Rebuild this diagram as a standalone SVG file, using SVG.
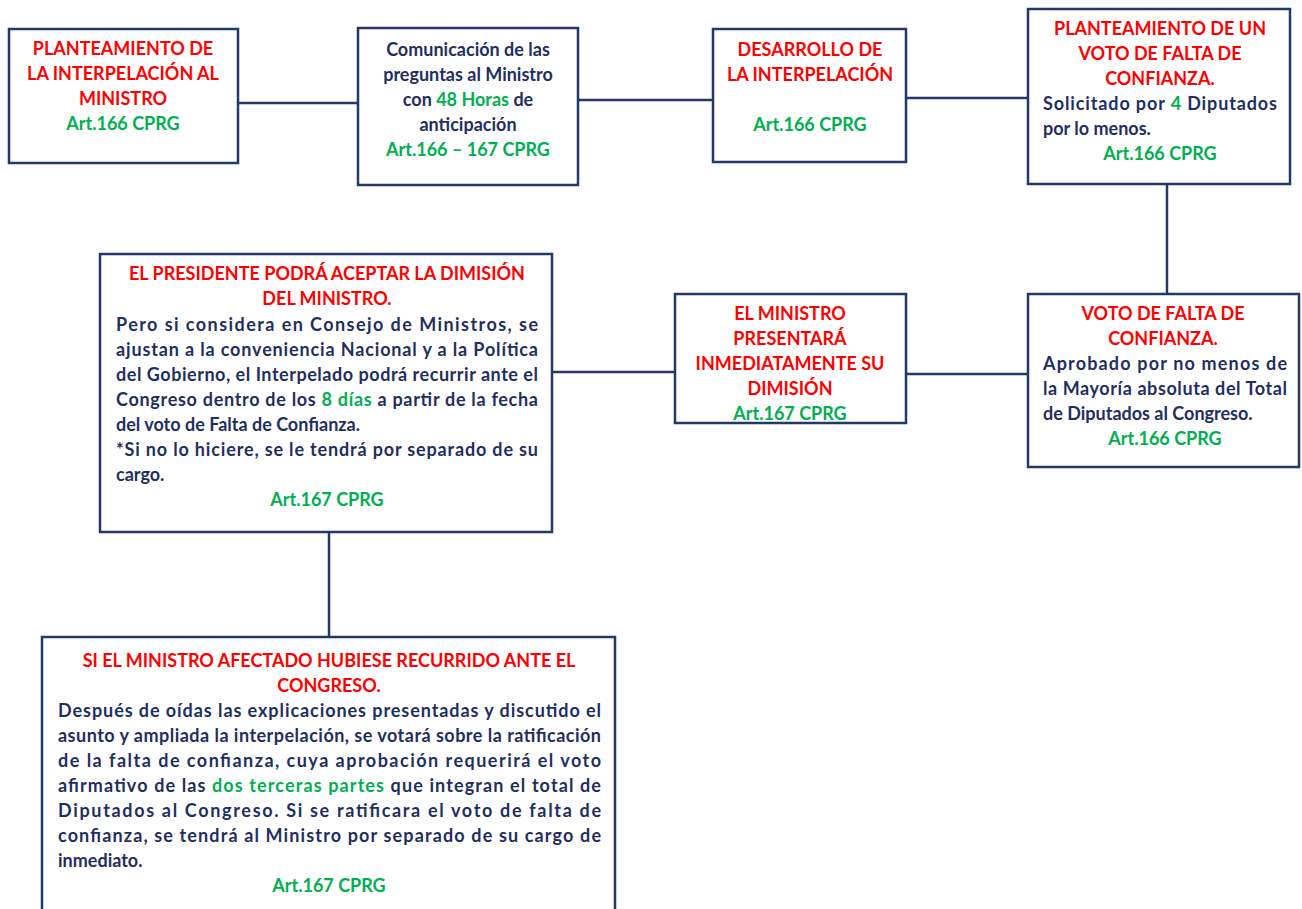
<svg xmlns="http://www.w3.org/2000/svg" width="1302" height="909" viewBox="0 0 1302 909">
<style>
.box{fill:#fff;stroke:#22386b;stroke-width:2.5}
.con{stroke:#22386b;stroke-width:2.5;fill:none}
text{font-family:Lato,"Liberation Sans",sans-serif;font-weight:bold;font-size:18px;fill:#1f2f5f}
.c{text-anchor:middle}
.r{fill:#ff0000}
.g{fill:#00b050}
</style>
<rect width="1302" height="909" fill="#fff"/>
<g id="connectors">
<line class="con" x1="238" y1="103" x2="358" y2="103"/>
<line class="con" x1="578" y1="100" x2="713" y2="100"/>
<line class="con" x1="906" y1="98" x2="1028" y2="98"/>
<line class="con" x1="1167" y1="184" x2="1167" y2="294"/>
<line class="con" x1="906" y1="374" x2="1028" y2="374"/>
<line class="con" x1="552" y1="372" x2="675" y2="372"/>
<line class="con" x1="329" y1="533" x2="329" y2="637"/>
</g>
<g id="n1">
<rect class="box" x="9" y="29" width="229" height="134"/>
<text class="c r" x="123" y="55">PLANTEAMIENTO DE</text>
<text class="c r" x="123" y="80">LA INTERPELACIÓN AL</text>
<text class="c r" x="123" y="105">MINISTRO</text>
<text class="c g" x="123" y="130">Art.166 CPRG</text>
</g>
<g id="n2">
<rect class="box" x="358" y="28" width="220" height="157"/>
<text class="c" x="468" y="56">Comunicación de las</text>
<text class="c" x="468" y="81">preguntas al Ministro</text>
<text class="c" x="468" y="106">con <tspan class="g">48 Horas</tspan> de</text>
<text class="c" x="468" y="131">anticipación</text>
<text class="c g" x="468" y="156">Art.166 – 167 CPRG</text>
</g>
<g id="n3">
<rect class="box" x="713" y="29" width="193" height="133"/>
<text class="c r" x="810" y="56">DESARROLLO DE</text>
<text class="c r" x="810" y="81">LA INTERPELACIÓN</text>
<text class="c g" x="810" y="131">Art.166 CPRG</text>
</g>
<g id="n4">
<rect class="box" x="1028" y="9" width="262" height="175"/>
<text class="c r" x="1160" y="35">PLANTEAMIENTO DE UN</text>
<text class="c r" x="1160" y="60">VOTO DE FALTA DE</text>
<text class="c r" x="1160" y="85">CONFIANZA.</text>
<text x="1043" y="110" textLength="234" lengthAdjust="spacing">Solicitado por <tspan class="g">4</tspan> Diputados</text>
<text x="1043" y="135">por lo menos.</text>
<text class="c g" x="1160" y="160">Art.166 CPRG</text>
</g>
<g id="n5">
<rect class="box" x="100" y="254" width="452" height="278"/>
<text class="c r" x="327" y="280">EL PRESIDENTE PODRÁ ACEPTAR LA DIMISIÓN</text>
<text class="c r" x="327" y="305">DEL MINISTRO.</text>
<text x="116" y="331" textLength="422" lengthAdjust="spacing">Pero si considera en Consejo de Ministros, se</text>
<text x="116" y="356" textLength="422" lengthAdjust="spacing">ajustan a la conveniencia Nacional y a la Política</text>
<text x="116" y="381" textLength="422" lengthAdjust="spacing">del Gobierno, el Interpelado podrá recurrir ante el</text>
<text x="116" y="406" textLength="422" lengthAdjust="spacing">Congreso dentro de los <tspan class="g">8 días</tspan> a partir de la fecha</text>
<text x="116" y="431">del voto de Falta de Confianza.</text>
<text x="116" y="456" textLength="422" lengthAdjust="spacing">*Si no lo hiciere, se le tendrá por separado de su</text>
<text x="116" y="481">cargo.</text>
<text class="c g" x="327" y="506">Art.167 CPRG</text>
</g>
<g id="n6">
<rect class="box" x="675" y="294" width="231" height="129"/>
<text class="c r" x="790" y="320">EL MINISTRO</text>
<text class="c r" x="790" y="345">PRESENTARÁ</text>
<text class="c r" x="790" y="370">INMEDIATAMENTE SU</text>
<text class="c r" x="790" y="395">DIMISIÓN</text>
<text class="c g" x="790" y="420">Art.167 CPRG</text>
</g>
<g id="n7">
<rect class="box" x="1028" y="294" width="271" height="173"/>
<text class="c r" x="1163" y="320">VOTO DE FALTA DE</text>
<text class="c r" x="1163" y="345">CONFIANZA.</text>
<text x="1043" y="370" textLength="244" lengthAdjust="spacing">Aprobado por no menos de</text>
<text x="1043" y="395" textLength="244" lengthAdjust="spacing">la Mayoría absoluta del Total</text>
<text x="1043" y="420">de Diputados al Congreso.</text>
<text class="c g" x="1165" y="445">Art.166 CPRG</text>
</g>
<g id="n8">
<rect class="box" x="42" y="637" width="573" height="285"/>
<text class="c r" x="329" y="667">SI EL MINISTRO AFECTADO HUBIESE RECURRIDO ANTE EL</text>
<text class="c r" x="329" y="692">CONGRESO.</text>
<text x="58" y="717" textLength="543" lengthAdjust="spacing">Después de oídas las explicaciones presentadas y discutido el</text>
<text x="58" y="742" textLength="543" lengthAdjust="spacing">asunto y ampliada la interpelación, se votará sobre la ratificación</text>
<text x="58" y="767" textLength="543" lengthAdjust="spacing">de la falta de confianza, cuya aprobación requerirá el voto</text>
<text x="58" y="792" textLength="543" lengthAdjust="spacing">afirmativo de las <tspan class="g">dos terceras partes</tspan> que integran el total de</text>
<text x="58" y="817" textLength="543" lengthAdjust="spacing">Diputados al Congreso. Si se ratificara el voto de falta de</text>
<text x="58" y="842" textLength="543" lengthAdjust="spacing">confianza, se tendrá al Ministro por separado de su cargo de</text>
<text x="58" y="867">inmediato.</text>
<text class="c g" x="329" y="892">Art.167 CPRG</text>
</g>
</svg>
